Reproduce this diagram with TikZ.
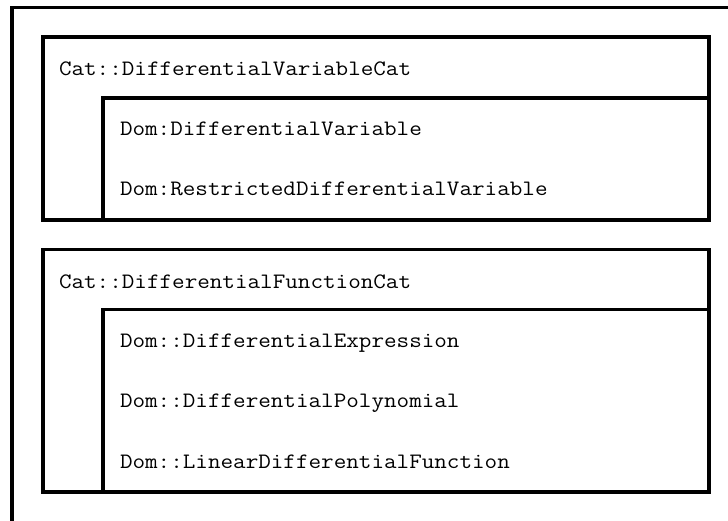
\documentclass[tikz,border=0pt]{standalone}
\usepackage{graphicx}
\newcommand{\TT}[1]{\scalebox{1.11}[1]{\fontsize{22}{22}\selectfont\ttfamily #1}}
\tikzset{
  frame/.style={line width=3.7pt, line cap=rect},
  lbl/.style={anchor=base west, inner sep=0pt, outer sep=0pt},
}
\begin{document}
\begin{tikzpicture}[x=1pt,y=-1pt]
\useasboundingbox (0,0) rectangle (728,521);
% outer frame
\coordinate (o1) at (12,523);
\coordinate (o2) at (12,7.5);
\coordinate (o3) at (730,7.5);
\draw[frame] (o1) -- (o2) -- (o3);
% box 1
\draw[frame] (43,37) rectangle (709,220);
\draw[frame] (103,220) -- (103,98) -- (709,98);
% box 2
\draw[frame] (43,249.5) rectangle (709,492);
\draw[frame] (103,492) -- (103,309.5) -- (709,309.5);
% labels
\node[lbl] (c1) at (59,76) {\TT{Cat::DifferentialVariableCat}};
\node[lbl] (d1) at (120,136) {\TT{Dom:DifferentialVariable}};
\node[lbl] (d2) at (120,196) {\TT{Dom:RestrictedDifferentialVariable}};
\node[lbl] (c2) at (59,288) {\TT{Cat::DifferentialFunctionCat}};
\node[lbl] (e1) at (120,347) {\TT{Dom::DifferentialExpression}};
\node[lbl] (e2) at (120,407) {\TT{Dom::DifferentialPolynomial}};
\node[lbl] (e3) at (120,468) {\TT{Dom::LinearDifferentialFunction}};
\end{tikzpicture}
\end{document}
